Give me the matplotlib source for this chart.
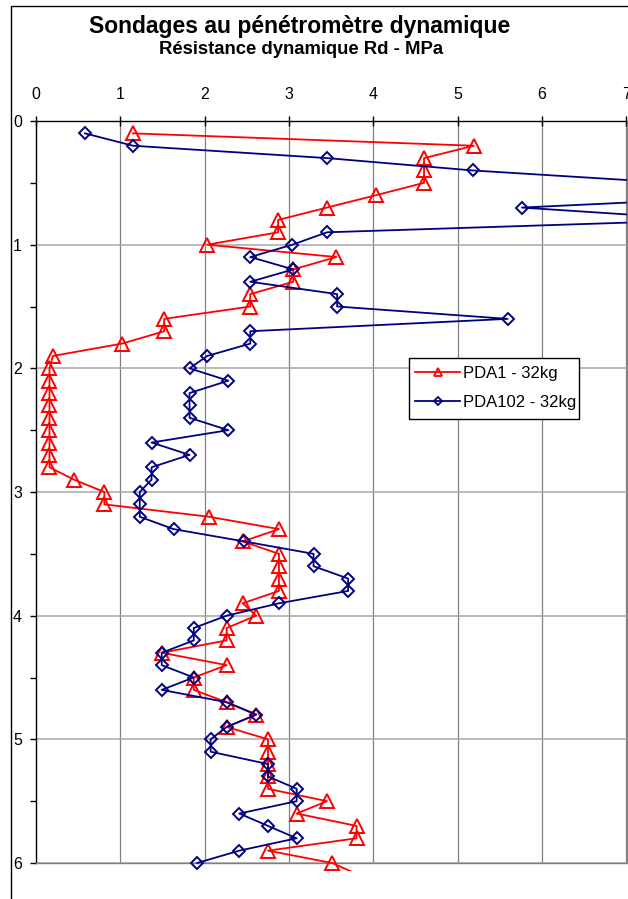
import matplotlib
matplotlib.use("Agg")
import matplotlib.pyplot as plt
from matplotlib.patches import Rectangle
from matplotlib.lines import Line2D
from matplotlib.ticker import MultipleLocator

plt.rcParams['font.family'] = ['Liberation Sans', 'DejaVu Sans']

title = "Sondages au pénétromètre dynamique"
subtitle = "Résistance dynamique Rd - MPa"
label_pda1 = "PDA1 - 32kg"
label_pda102 = "PDA102 - 32kg"
x_ticks = [0, 1, 2, 3, 4, 5, 6, 7]
y_ticks = [0, 1, 2, 3, 4, 5, 6]

depth_pda1 = [0.1, 0.2, 0.3, 0.4, 0.5, 0.6, 0.7, 0.8, 0.9, 1.0,
              1.1, 1.2, 1.3, 1.4, 1.5, 1.6, 1.7, 1.8, 1.9, 2.0,
              2.1, 2.2, 2.3, 2.4, 2.5, 2.6, 2.7, 2.8, 2.9, 3.0,
              3.1, 3.2, 3.3, 3.4, 3.5, 3.6, 3.7, 3.8, 3.9, 4.0,
              4.1, 4.2, 4.3, 4.4, 4.5, 4.6, 4.7, 4.8, 4.9, 5.0,
              5.1, 5.2, 5.3, 5.4, 5.5, 5.6, 5.7, 5.8, 5.9, 6.0, 6.1]
rd_pda1 = [1.15, 5.19, 4.60, 4.60, 4.60, 4.03, 3.45, 2.87, 2.87, 2.03,
           3.56, 3.05, 3.05, 2.54, 2.54, 1.52, 1.52, 1.02, 0.20, 0.16,
           0.16, 0.16, 0.16, 0.16, 0.16, 0.16, 0.16, 0.16, 0.45, 0.81,
           0.81, 2.05, 2.88, 2.45, 2.88, 2.88, 2.88, 2.88, 2.45, 2.61,
           2.26, 2.26, 1.49, 2.26, 1.87, 1.87, 2.26, 2.61, 2.26, 2.75,
           2.75, 2.75, 2.75, 2.75, 3.45, 3.09, 3.80, 3.80, 2.75, 3.51, 3.84]

depth_pda102 = [0.1, 0.2, 0.3, 0.4, 0.5, 0.6, 0.7, 0.8, 0.9, 1.0,
                1.1, 1.2, 1.3, 1.4, 1.5, 1.6, 1.7, 1.8, 1.9, 2.0,
                2.1, 2.2, 2.3, 2.4, 2.5, 2.6, 2.7, 2.8, 2.9, 3.0,
                3.1, 3.2, 3.3, 3.4, 3.5, 3.6, 3.7, 3.8, 3.9, 4.0,
                4.1, 4.2, 4.3, 4.4, 4.5, 4.6, 4.7, 4.8, 4.9, 5.0,
                5.1, 5.2, 5.3, 5.4, 5.5, 5.6, 5.7, 5.8, 5.9, 6.0]
rd_pda102 = [0.58, 1.15, 3.45, 5.18, 7.54, 8.86, 5.76, 8.00, 3.45, 3.04,
             2.54, 3.05, 2.54, 3.57, 3.57, 5.59, 2.54, 2.54, 2.03, 1.82,
             2.28, 1.82, 1.82, 1.82, 2.28, 1.37, 1.82, 1.37, 1.37, 1.23,
             1.23, 1.23, 1.63, 2.47, 3.29, 3.29, 3.70, 3.70, 2.88, 2.26,
             1.87, 1.87, 1.49, 1.49, 1.87, 1.49, 2.26, 2.61, 2.26, 2.07,
             2.07, 2.75, 2.75, 3.09, 3.09, 2.41, 2.75, 3.09, 2.41, 1.91]

RED = '#ff0000'
NAVY = '#000080'

W, H = 628, 899
fig = plt.figure(figsize=(W / 100, H / 100), dpi=100)
fig.patch.set_facecolor('white')

# outer chart frame
fig.add_artist(Rectangle((11 / W, -0.1), 1.2, 1.1 - 6 / H, transform=fig.transFigure,
                         fill=False, edgecolor='black', linewidth=1.0))

left, right, top, bottom = 36, 626.5, 121, 863
ax = fig.add_axes([left / W, 1 - bottom / H, (right - left) / W, (bottom - top) / H])

ax.set_xlim(0, 7)
ax.set_ylim(6, 0)
ax.set_xticks(x_ticks)
ax.set_yticks(y_ticks)
ax.yaxis.set_minor_locator(MultipleLocator(0.5))

ax.xaxis.tick_top()
ax.tick_params(axis='x', which='major', direction='inout', length=7, width=1,
               labelsize=11.5, pad=10, color='black')
ax.tick_params(axis='y', which='major', direction='out', length=4, width=1,
               labelsize=11.5, pad=6)
ax.tick_params(axis='y', which='minor', direction='out', length=4, width=1)

for xv in x_ticks[1:]:
    ax.axvline(xv, color='#808080', lw=0.9, zorder=0.5)
for yv in y_ticks[1:]:
    ax.axhline(yv, color='#a8a8a8', lw=1.1, zorder=0.5)

ax.spines['top'].set_color('black')
ax.spines['left'].set_color('black')
ax.spines['right'].set_color('#808080')
ax.spines['bottom'].set_color('#808080')
for s in ax.spines.values():
    s.set_linewidth(1.0)

clip = Rectangle((0, -0.011), 1, 1.011, transform=ax.transAxes)

l1, = ax.plot(rd_pda1, depth_pda1, color=RED, lw=1.3, marker='^', ms=9.5,
              mfc='none', mec=RED, mew=1.4,
              markevery=list(range(len(rd_pda1) - 1)), zorder=3)
l2, = ax.plot(rd_pda102, depth_pda102, color=NAVY, lw=1.3, marker='D', ms=6.5,
              mfc='none', mec=NAVY, mew=1.4, zorder=3)
l1.set_clip_path(clip)
l2.set_clip_path(clip)

# legend box (drawn separately to match the tight Excel frame)
ax.add_patch(Rectangle((0.6317, 0.5984), 0.2879, 0.0822, transform=ax.transAxes,
                       facecolor='white', edgecolor='black', lw=1.0, zorder=4.9,
                       clip_on=False))
h1 = Line2D([], [], color=RED, lw=1.3, marker='^', ms=6, mfc='none', mec=RED, mew=1.3)
h2 = Line2D([], [], color=NAVY, lw=1.3, marker='D', ms=4.2, mfc='none', mec=NAVY, mew=1.3)
leg = ax.legend([h1, h2], [label_pda1, label_pda102], loc='upper left',
                bbox_to_anchor=(0.6419, 0.6700), fontsize=12, numpoints=1,
                frameon=False, handlelength=2.7, borderpad=0, labelspacing=0.85,
                handletextpad=0.2, borderaxespad=0)
leg.set_zorder(5)

fig.text(300 / W, 1 - 27 / H, title, ha='center', va='center',
         fontsize=16.5, fontweight='bold')
fig.text(301 / W, 1 - 50 / H, subtitle, ha='center', va='center',
         fontsize=13.3, fontweight='bold')

fig.savefig('out.png', dpi=100)
